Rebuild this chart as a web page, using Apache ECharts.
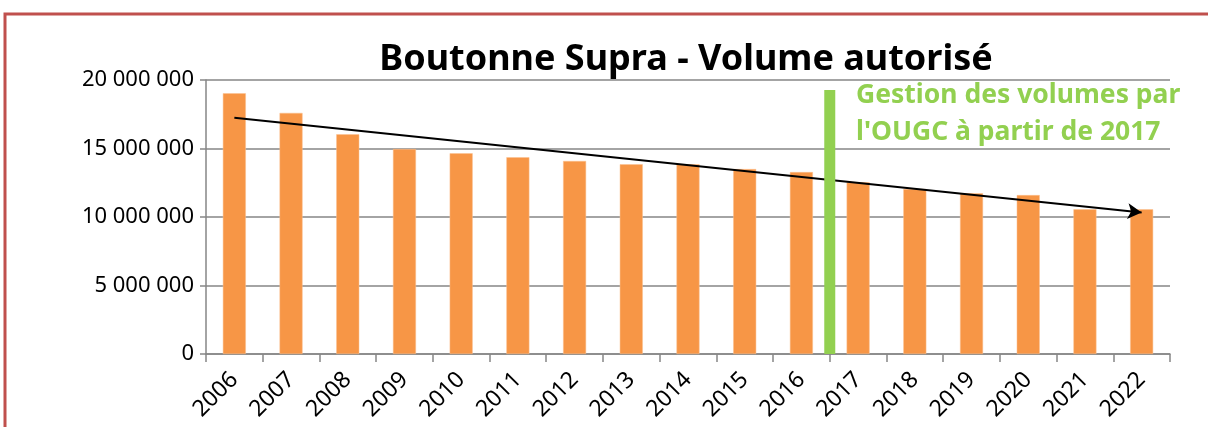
<!DOCTYPE html>
<html><head><meta charset="utf-8">
<script src="https://cdn.jsdelivr.net/npm/echarts@6/dist/echarts.min.js"></script>
<style>html,body{margin:0;padding:0;background:#fff}#c{width:1208px;height:427px}</style>
</head><body><div id="c"></div>
<script>
const years = ['2006','2007','2008','2009','2010','2011','2012','2013','2014','2015','2016','2017','2018','2019','2020','2021','2022'];
const volumes = [19030000,17600000,16040000,14960000,14650000,14360000,14090000,13850000,13850000,13500000,13280000,12530000,12040000,11730000,11600000,10560000,10560000];
const yTicks = [0, 5000000, 10000000, 15000000, 20000000];
// separator (position in category units, top value)
const separatorX = 11;
const separatorTop = 19270000;
// trend arrow: [category position, value]
const trendStart = [0.5, 17250000];
const trendEnd = [16.5, 10320000];
const titleText = 'Boutonne Supra - Volume autorisé';
const noteLines = ["Gestion des volumes par", "l'OUGC à partir de 2017"];

const fmt = v => String(v).replace(/\B(?=(\d{3})+(?!\d))/g, ' ');
const chart = echarts.init(document.getElementById('c'));
const gridLeft = 206, gridRight = 38, gridTop = 80, gridBottom = 73;
chart.setOption({
  animation: false,
  textStyle: {fontFamily: 'Noto Sans'},
  title: {
    text: titleText, left: 681, top: 37, textAlign: 'center',
    textStyle: {fontFamily: 'Noto Sans', fontWeight: 'bold', fontSize: 36, color: '#000'}
  },
  graphic: [
    {type: 'rect', shape: {x: 5, y: 14, width: 1260, height: 460}, style: {fill: 'none', stroke: '#C0504D', lineWidth: 3}, silent: true},
    {type: 'text', left: 856, top: 77, style: {text: noteLines.join('\n'), fill: '#92D050', font: 'bold 26.5px "Noto Sans"', lineHeight: 37}}
  ],
  grid: {left: gridLeft, right: gridRight, top: gridTop, bottom: gridBottom, containLabel: false},
  xAxis: [
    {
      type: 'category', data: years, boundaryGap: true,
      axisLine: {show: true, lineStyle: {color: '#868686', width: 1.5}},
      axisTick: {show: true, alignWithLabel: false, length: 8, lineStyle: {color: '#868686', width: 1.5}},
      axisLabel: {rotate: 45, fontSize: 23, color: '#000', margin: 22, interval: 0, fontFamily: 'Noto Sans'}
    },
    {type: 'value', min: 0, max: years.length, show: false}
  ],
  yAxis: {
    type: 'value', min: 0, max: 20000000, interval: 5000000,
    axisLine: {show: true, lineStyle: {color: '#868686', width: 1.5}},
    axisTick: {show: true, length: 6, lineStyle: {color: '#868686', width: 1.5}},
    splitLine: {show: true, lineStyle: {color: '#868686', width: 1.5}},
    axisLabel: {fontSize: 22, color: '#000', margin: 12, formatter: v => yTicks.includes(v) ? fmt(v) : ''}
  },
  series: [
    {
      type: 'bar', data: volumes, barWidth: 23,
      itemStyle: {color: '#F79646', borderColor: '#FAC090', borderWidth: 0.5}
    },
    {
      type: 'line', xAxisIndex: 1, yAxisIndex: 0,
      data: [[separatorX, 0], [separatorX, separatorTop]],
      symbol: 'none', lineStyle: {color: '#92D050', width: 11, cap: 'butt'}, z: 5,
      markLine: {
        silent: true, symbol: ['none', 'arrow'], symbolSize: [12, 14],
        label: {show: false},
        lineStyle: {color: '#000', width: 2, type: 'solid'},
        data: [[{coord: trendStart}, {coord: trendEnd}]]
      }
    }
  ]
});
</script></body></html>
